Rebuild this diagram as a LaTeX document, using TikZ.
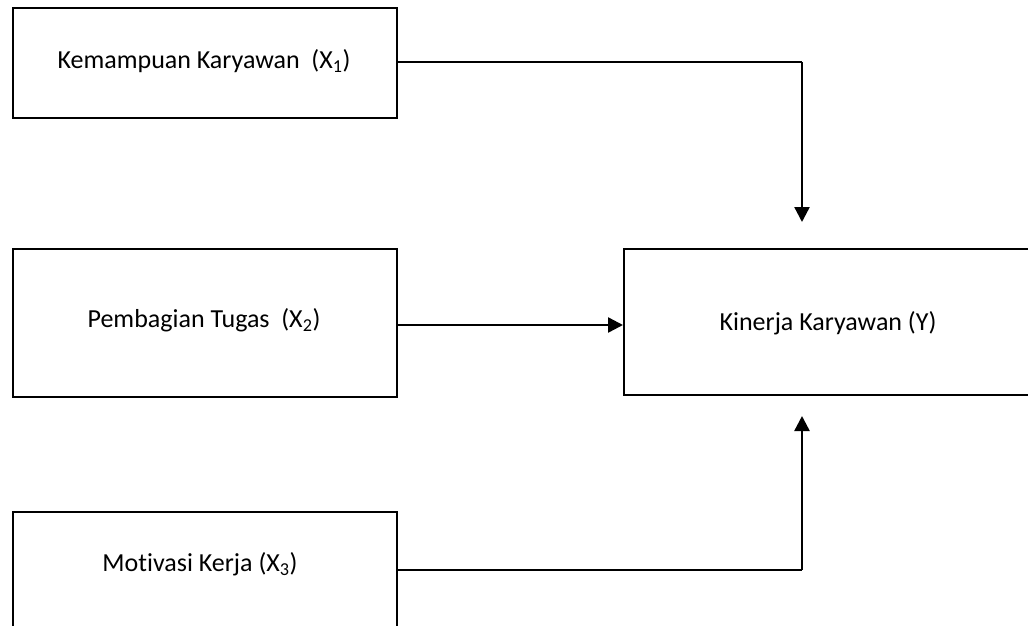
\documentclass[tikz,border=0pt]{standalone}
\usepackage{fontspec}
\setmainfont{Carlito}[Ligatures=NoCommon]
\usetikzlibrary{arrows.meta}
\begin{document}
\begin{tikzpicture}[x=1pt,y=-1pt,
  box/.style={draw=black,line width=2pt,rectangle,inner sep=0pt,anchor=north west},
  lbl/.style={font=\fontsize{26}{30}\selectfont,inner sep=0pt},
  thin/.style={line width=1.3pt},
  thick/.style={line width=2.4pt},
  tip/.style={-{Triangle[width=15pt,length=15pt]}}]
\useasboundingbox (0,0) rectangle (1028,626);
\clip (0,0) rectangle (1028,626);
\node[box,minimum width=384pt,minimum height=110pt] (b1) at (12,7) {};
\node[box,minimum width=384pt,minimum height=148pt] (b2) at (12,248) {};
\node[box,minimum width=384pt,minimum height=130pt] (b3) at (12,511) {};
\node[box,minimum width=410pt,minimum height=146pt] (by) at (623,248) {};
\node[lbl] (t1) at (204,61) {Kemampuan Karyawan\ \ (X\textsubscript{1})};
\node[lbl] (t2) at (204,320) {Pembagian Tugas\ \ (X\textsubscript{2})};
\node[lbl] (t3) at (200,564) {Motivasi Kerja (X\textsubscript{3})};
\node[lbl] (ty) at (828,323) {Kinerja Karyawan (Y)};
\coordinate (c1) at (802,62);
\coordinate (c3) at (802,570);
\draw[thin] (b1.east |- c1) -- (c1);
\draw[thick,tip] (c1) -- (802,222);
\draw[thick,tip] (b2.east |- 0,325) -- (by.west |- 0,325);
\draw[thin] (b3.east |- c3) -- (c3);
\draw[thick,tip] (c3) -- (802,416);
\end{tikzpicture}
\end{document}
